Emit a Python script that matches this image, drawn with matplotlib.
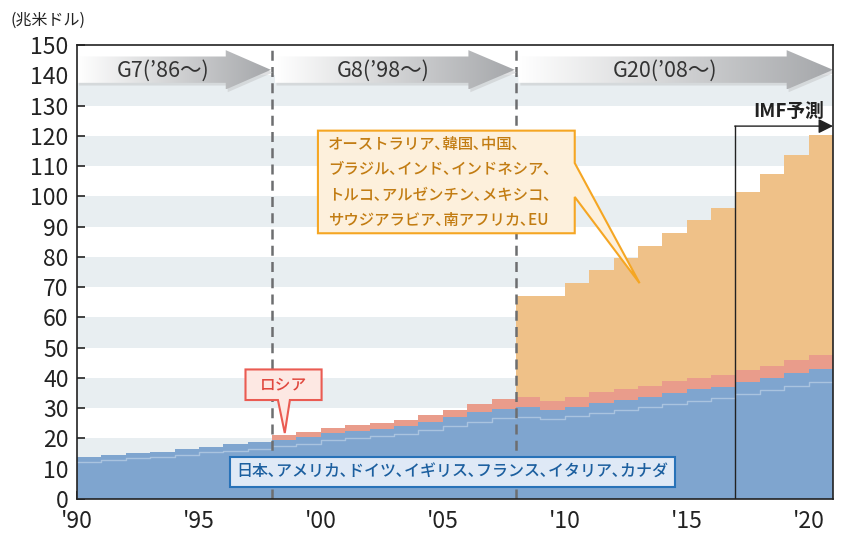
import numpy as np
import matplotlib
matplotlib.use('Agg')
import matplotlib.pyplot as plt
from matplotlib.patches import Polygon
from matplotlib.colors import LinearSegmentedColormap

plt.rcParams['font.family'] = ['Noto Sans CJK JP', 'DejaVu Sans']

# --- dados (兆米ドル), 1990-2020 ---
anos = list(range(1990, 2021))
g7 = [13.8, 14.4, 15.2, 15.6, 16.4, 17.2, 18.1, 18.8, 19.5, 20.6,
      21.8, 22.6, 23.2, 24.2, 25.5, 27.0, 28.6, 29.8, 30.3, 29.5,
      30.5, 31.8, 32.8, 33.8, 35.1, 36.3, 37.1, 38.6, 40.1, 41.5, 43.0]
g7_linha = [12.3, 12.9, 13.4, 14.0, 14.5, 15.4, 16.0, 16.6, 17.6, 18.2,
            19.5, 20.1, 20.7, 21.5, 22.8, 24.1, 25.4, 26.7, 27.0, 26.3,
            27.4, 28.3, 29.3, 30.3, 31.4, 32.4, 33.3, 34.7, 36.0, 37.3, 38.6]
anos_russia = list(range(1998, 2021))
russia = [1.6, 1.4, 1.8, 1.7, 1.8, 1.9, 2.2, 2.4, 2.7, 3.1, 3.3, 2.9,
          3.2, 3.4, 3.5, 3.6, 3.9, 3.8, 4.0, 4.0, 3.9, 4.3, 4.6]
anos_g20 = list(range(2008, 2021))
outros = [33.5, 34.7, 37.6, 40.4, 43.4, 46.2, 49.0, 52.1, 55.1, 58.9, 63.4, 67.7, 72.6]

xticks = [1990, 1995, 2000, 2005, 2010, 2015, 2020]
xlabels = ["'90", "'95", "'00", "'05", "'10", "'15", "'20"]

azul = '#7fa5cf'
vermelho = '#e99c8b'
laranja = '#efc188'
faixa = '#e8eef1'


def degraus(xs, vs):
    # step 'post': repete o ultimo valor ate o fim do ano
    return np.array(list(xs) + [xs[-1] + 1]), np.array(list(vs) + [vs[-1]])


fig = plt.figure(figsize=(8.45, 5.35), dpi=100)
ax = fig.add_axes([0.0911, 0.0673, 0.8947, 0.8486])

# faixas de fundo
for lo in range(10, 140, 20):
    ax.axhspan(lo, lo + 10, color=faixa, lw=0, zorder=0)

# areas empilhadas
x, y_g7 = degraus(anos, g7)
ax.fill_between(x, 0, y_g7, step='post', color=azul, lw=0, zorder=2)
x, y_l = degraus(anos, g7_linha)
ax.step(x, y_l, where='post', color='#a9c3df', lw=1.0, zorder=2.5)

base_r = np.array(g7[anos.index(1998):])
x, y_r0 = degraus(anos_russia, base_r)
_, y_r1 = degraus(anos_russia, base_r + np.array(russia))
ax.fill_between(x, y_r0, y_r1, step='post', color=vermelho, lw=0, zorder=2)

base_o = np.array(g7[anos.index(2008):]) + np.array(russia[anos_russia.index(2008):])
x, y_o0 = degraus(anos_g20, base_o)
_, y_o1 = degraus(anos_g20, base_o + np.array(outros))
ax.fill_between(x, y_o0, y_o1, step='post', color=laranja, lw=0, zorder=2)

# linhas tracejadas G8 / G20
for xv in [1998, 2008]:
    ax.plot([xv, xv], [0, 150], color='#6d6e70', lw=1.8, ls=(0, (4, 2.5)), zorder=3)

# setas G7 / G8 / G20 com gradiente
cmap_seta = LinearSegmentedColormap.from_list('seta', ['#ffffff', '#a5a7aa'])
grad = np.linspace(0, 1, 256).reshape(1, -1)
setas = [(1990.0, 1996.1, 1997.95, "G7(’86〜)"),
         (1998.1, 2006.05, 2007.95, "G8(’98〜)"),
         (2008.1, 2019.1, 2021.0, "G20(’08〜)")]
for x0, xh, xt, rot in setas:
    verts = [(x0, 137.5), (xh, 137.5), (xh, 135.3), (xt, 141.8),
             (xh, 148.3), (xh, 146.2), (x0, 146.2)]
    sombra = Polygon([(vx + 0.08, vy - 0.9) for vx, vy in verts], closed=True,
                     facecolor='#c9cbcd', edgecolor='none', alpha=0.6, zorder=3.5)
    ax.add_patch(sombra)
    poly = Polygon(verts, closed=True, facecolor='none', edgecolor='none', zorder=4)
    ax.add_patch(poly)
    im = ax.imshow(grad, extent=[x0, xt, 135.3, 148.3], aspect='auto',
                   cmap=cmap_seta, zorder=4)
    im.set_clip_path(poly)
    ax.text((x0 + xh) / 2 + 0.5, 141.6, rot, fontsize=15.5, color='#333333',
            ha='center', va='center', zorder=5)

# IMF予測
ax.plot([2017, 2017], [0, 123.2], color='#222222', lw=1.0, zorder=3)
ax.annotate('', xy=(2021.0, 123.2), xytext=(2016.97, 123.2),
            arrowprops=dict(arrowstyle='-|>', color='#222222', lw=1.0,
                            mutation_scale=22, shrinkA=0, shrinkB=0), zorder=5)
ax.text(2019.2, 127.9, 'IMF予測', fontsize=13.5, fontweight='bold',
        color='#222222', ha='center', va='center', zorder=5)

# caixa azul (G7)
ax.text(2005.4, 8.9, '日本､アメリカ､ドイツ､イギリス､フランス､イタリア､カナダ',
        fontsize=11.5, fontweight='medium', color='#1c5f9f', ha='center',
        va='center', zorder=6,
        bbox=dict(boxstyle='square,pad=0.4', facecolor='#dfe9f6',
                  edgecolor='#2872b8', lw=1.5))

# balao ロシア
bal_r = [(1996.91, 42.8), (2000.03, 42.8), (2000.03, 32.7), (1998.73, 32.7),
         (1998.52, 21.8), (1998.24, 32.7), (1996.91, 32.7)]
ax.add_patch(Polygon(bal_r, closed=True, facecolor='#fde8e3', edgecolor='#ea5b52',
                     lw=1.5, zorder=6))
ax.text(1998.47, 37.8, 'ロシア', fontsize=11.3, fontweight='medium', color='#e0483e',
        ha='center', va='center', zorder=7)

# balao laranja (demais G20)
bal_o = [(1999.88, 121.7), (2010.41, 121.7), (2010.41, 111.0), (2013.07, 71.3),
         (2010.41, 99.8), (2010.41, 87.8), (1999.88, 87.8)]
ax.add_patch(Polygon(bal_o, closed=True, facecolor='#fdf0dc', edgecolor='#f5a623',
                     lw=1.5, zorder=6))
ax.text(2000.3, 104.6,
        'オーストラリア､韓国､中国､\nブラジル､インド､インドネシア､\n'
        'トルコ､アルゼンチン､メキシコ､\nサウジアラビア､南アフリカ､EU',
        fontsize=11.1, fontweight='medium', color='#c27c12', ha='left',
        va='center', linespacing=1.65, zorder=7)

# eixos
ax.set_xlim(1990, 2021)
ax.set_ylim(0, 150)
ax.set_yticks(range(0, 151, 10))
ax.set_xticks(xticks)
ax.set_xticklabels(xlabels)
ax.tick_params(direction='in', length=6, width=1.2, labelsize=16.5,
               colors='#222222', top=False, right=False)
ax.tick_params(axis='x', pad=8)
ax.tick_params(axis='y', pad=6)
for sp in ax.spines.values():
    sp.set_color('#222222')
    sp.set_linewidth(1.2)
    sp.set_zorder(8)

fig.text(0.012, 0.962, '(兆米ドル)', fontsize=11.5, color='#222222',
         ha='left', va='center')

fig.savefig('out.png', dpi=100)
